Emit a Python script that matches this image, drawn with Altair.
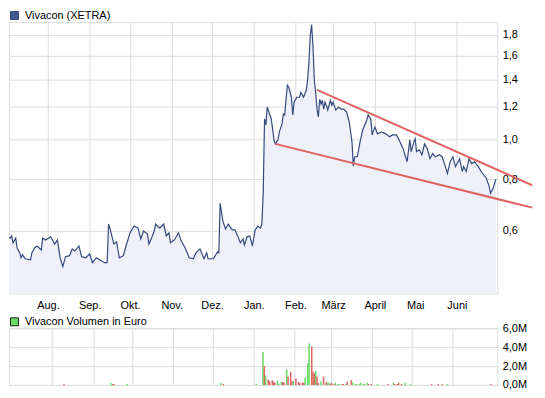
import altair as alt
import pandas as pd

# ---------------- data ----------------
price_name = "Vivacon (XETRA)"
price_dates = [
    "2006-07-01", "2006-07-04", "2006-07-05", "2006-07-06", "2006-07-08", "2006-07-09", "2006-07-11",
    "2006-07-12", "2006-07-13", "2006-07-15", "2006-07-19", "2006-07-20", "2006-07-22", "2006-07-24",
    "2006-07-27", "2006-07-28", "2006-07-30", "2006-08-03", "2006-08-06", "2006-08-08", "2006-08-10",
    "2006-08-12", "2006-08-14", "2006-08-17", "2006-08-19", "2006-08-21", "2006-08-24", "2006-08-26",
    "2006-08-29", "2006-09-01", "2006-09-03", "2006-09-06", "2006-09-12", "2006-09-14", "2006-09-15",
    "2006-09-16", "2006-09-19", "2006-09-21", "2006-09-23", "2006-09-26", "2006-09-28", "2006-10-01",
    "2006-10-04", "2006-10-07", "2006-10-09", "2006-10-11", "2006-10-14", "2006-10-15", "2006-10-17",
    "2006-10-19", "2006-10-20", "2006-10-23", "2006-10-26", "2006-10-28", "2006-10-30", "2006-10-31",
    "2006-11-03", "2006-11-06", "2006-11-08", "2006-11-11", "2006-11-14", "2006-11-17", "2006-11-19",
    "2006-11-22", "2006-11-25", "2006-11-27", "2006-11-28", "2006-12-02", "2006-12-05", "2006-12-06",
    "2006-12-07", "2006-12-09", "2006-12-11", "2006-12-13", "2006-12-16", "2006-12-18", "2006-12-20",
    "2006-12-22", "2006-12-24", "2006-12-25", "2006-12-27", "2006-12-29", "2006-12-31", "2007-01-02",
    "2007-01-04", "2007-01-06", "2007-01-07", "2007-01-08", "2007-01-09", "2007-01-10", "2007-01-11",
    "2007-01-13", "2007-01-14", "2007-01-15", "2007-01-16", "2007-01-17", "2007-01-19", "2007-01-20",
    "2007-01-22", "2007-01-23", "2007-01-24", "2007-01-25", "2007-01-26", "2007-01-27", "2007-01-29",
    "2007-01-30", "2007-01-31", "2007-02-02", "2007-02-04", "2007-02-05", "2007-02-07", "2007-02-09",
    "2007-02-10", "2007-02-11", "2007-02-12", "2007-02-13", "2007-02-14", "2007-02-15", "2007-02-16",
    "2007-02-17", "2007-02-18", "2007-02-19", "2007-02-20", "2007-02-21", "2007-02-22", "2007-02-23",
    "2007-02-24", "2007-02-25", "2007-02-27", "2007-02-28", "2007-03-01", "2007-03-03", "2007-03-05",
    "2007-03-07", "2007-03-09", "2007-03-11", "2007-03-13", "2007-03-15", "2007-03-16", "2007-03-17",
    "2007-03-19", "2007-03-21", "2007-03-23", "2007-03-26", "2007-03-27", "2007-03-29", "2007-03-30",
    "2007-04-01", "2007-04-03", "2007-04-06", "2007-04-09", "2007-04-12", "2007-04-14", "2007-04-17",
    "2007-04-19", "2007-04-22", "2007-04-25", "2007-04-27", "2007-04-28", "2007-04-30", "2007-05-01",
    "2007-05-02", "2007-05-04", "2007-05-06", "2007-05-08", "2007-05-10", "2007-05-12", "2007-05-14",
    "2007-05-16", "2007-05-19", "2007-05-21", "2007-05-23", "2007-05-25", "2007-05-27", "2007-05-29",
    "2007-05-31", "2007-06-03", "2007-06-05", "2007-06-06", "2007-06-08", "2007-06-10", "2007-06-12",
    "2007-06-14", "2007-06-17", "2007-06-19", "2007-06-23", "2007-06-25", "2007-06-26", "2007-06-28",
    "2007-06-30",
]
price_values = [
    0.582, 0.575, 0.582, 0.560, 0.575, 0.544, 0.529,
    0.515, 0.524, 0.512, 0.509, 0.529, 0.544, 0.550,
    0.538, 0.575, 0.569, 0.579, 0.556, 0.569, 0.515,
    0.490, 0.518, 0.521, 0.541, 0.535, 0.550, 0.518,
    0.515, 0.526, 0.501, 0.515, 0.501, 0.501, 0.622,
    0.608, 0.556, 0.563, 0.515, 0.521, 0.550, 0.592,
    0.615, 0.608, 0.572, 0.598, 0.588, 0.556, 0.575,
    0.598, 0.622, 0.608, 0.622, 0.582, 0.592, 0.560,
    0.569, 0.592, 0.566, 0.544, 0.515, 0.512, 0.529,
    0.541, 0.512, 0.529, 0.512, 0.512, 0.532, 0.529,
    0.699, 0.632, 0.605, 0.622, 0.602, 0.602, 0.582,
    0.560, 0.572, 0.553, 0.579, 0.582, 0.550, 0.602,
    0.615, 0.608, 0.622, 0.735, 1.121, 1.084, 1.198,
    1.146, 1.121, 1.060, 0.997, 0.975, 0.997, 1.043,
    1.090, 1.152, 1.146, 1.252, 1.354, 1.339, 1.266,
    1.146, 1.232, 1.266, 1.266, 1.302, 1.266, 1.317,
    1.392, 1.538, 1.787, 1.900, 1.690, 1.392, 1.302,
    1.185, 1.133, 1.252, 1.218, 1.245, 1.185, 1.232,
    1.211, 1.178, 1.245, 1.210, 1.232, 1.178, 1.198,
    1.185, 1.185, 1.165, 1.102, 0.986, 0.860, 0.907,
    0.907, 0.986, 1.054, 1.114, 1.146, 1.121, 1.025,
    1.072, 1.031, 1.043, 1.031, 1.014, 1.025, 1.025,
    0.997, 0.949, 0.882, 0.997, 0.933, 0.986, 1.003,
    0.933, 0.943, 0.917, 0.975, 0.949, 0.897, 0.923,
    0.907, 0.917, 0.907, 0.868, 0.826, 0.882, 0.907,
    0.858, 0.897, 0.835, 0.858, 0.835, 0.897, 0.873,
    0.882, 0.858, 0.835, 0.803, 0.768, 0.739, 0.760,
    0.800,
]

volume_name = "Vivacon Volumen in Euro"
vol_dates = [
    "2006-08-10", "2006-09-15", "2006-09-16", "2006-09-17", "2006-09-27", "2006-12-07", "2006-12-09",
    "2007-01-03", "2007-01-08", "2007-01-09", "2007-01-10", "2007-01-12", "2007-01-13", "2007-01-15",
    "2007-01-16", "2007-01-17", "2007-01-19", "2007-01-20", "2007-01-22", "2007-01-23", "2007-01-24",
    "2007-01-26", "2007-01-27", "2007-01-29", "2007-01-30", "2007-01-31", "2007-02-02", "2007-02-04",
    "2007-02-05", "2007-02-07", "2007-02-08", "2007-02-09", "2007-02-11", "2007-02-12", "2007-02-14",
    "2007-02-15", "2007-02-16", "2007-02-17", "2007-02-18", "2007-02-19", "2007-02-21", "2007-02-23",
    "2007-02-25", "2007-02-26", "2007-02-27", "2007-02-28", "2007-03-01", "2007-03-03", "2007-03-04",
    "2007-03-06", "2007-03-07", "2007-03-09", "2007-03-10", "2007-03-12", "2007-03-13", "2007-03-16",
    "2007-03-17", "2007-03-19", "2007-03-20", "2007-03-22", "2007-03-23", "2007-03-25", "2007-03-26",
    "2007-03-28", "2007-03-29", "2007-03-31", "2007-04-05", "2007-04-13", "2007-04-17", "2007-04-18",
    "2007-04-20", "2007-04-21", "2007-04-23", "2007-04-26", "2007-04-30", "2007-05-16", "2007-05-21",
    "2007-05-24", "2007-05-28", "2007-06-30",
]
vol_values = [  # million euro
    0.10, 0.20, 0.10, 0.10, 0.10, 0.20, 0.10,
    0.13, 3.50, 2.00, 1.00, 0.57, 0.40, 0.50,
    0.33, 0.23, 0.47, 0.13, 0.30, 0.30, 0.27,
    1.67, 0.90, 1.40, 0.40, 0.40, 0.67, 0.30,
    0.23, 0.23, 0.23, 0.80, 2.30, 4.40, 4.07,
    1.40, 1.20, 1.50, 0.90, 0.23, 0.40, 0.90,
    0.33, 0.23, 0.23, 0.10, 0.23, 0.10, 0.23,
    0.10, 0.10, 0.10, 0.10, 0.10, 0.33, 0.50,
    0.23, 0.10, 0.10, 0.10, 0.23, 0.10, 0.10,
    0.23, 0.10, 0.10, 0.10, 0.10, 0.23, 0.10,
    0.10, 0.23, 0.10, 0.23, 0.10, 0.10, 0.10,
    0.10, 0.10, 0.10,
]
vol_dir = [
    "down", "up", "down", "down", "up", "up", "down",
    "up", "up", "down", "up", "down", "down", "down",
    "down", "down", "up", "up", "up", "down", "down",
    "up", "down", "down", "down", "up", "down", "down",
    "down", "down", "down", "up", "up", "up", "down",
    "down", "down", "up", "down", "down", "up", "down",
    "down", "up", "up", "down", "down", "down", "up",
    "up", "up", "down", "down", "up", "down", "down",
    "up", "up", "up", "up", "up", "up", "up",
    "up", "down", "down", "up", "down", "up", "down",
    "down", "down", "down", "up", "up", "down", "down",
    "down", "up", "down",
]

trend_names = ["upper", "upper", "lower", "lower"]
trend_dates = ["2007-02-17", "2007-07-27", "2007-01-17", "2007-07-27"]
trend_values = [1.32, 0.773, 0.975, 0.682]

month_ticks = [(2006, 8), (2006, 9), (2006, 10), (2006, 11), (2006, 12), (2007, 1),
               (2007, 2), (2007, 3), (2007, 4), (2007, 5), (2007, 6)]
month_labels = ["Jan.", "Feb.", "März", "April", "Mai", "Juni",
                "Juli", "Aug.", "Sep.", "Okt.", "Nov.", "Dez."]
x_domain = [(2006, 7, 3), (2007, 7, 1)]
price_ticks = [0.6, 0.8, 1.0, 1.2, 1.4, 1.6, 1.8]
price_domain = [0.4215, 1.93]
vol_ticks = [0, 2, 4, 6]
vol_domain = [0, 6]

# ---------------- build ----------------
price_df = pd.DataFrame({"date": price_dates, "price": price_values, "name": price_name})
vol_df = pd.DataFrame({"date": vol_dates, "vol": vol_values, "dir": vol_dir})
trend_df = pd.DataFrame({"line": trend_names, "date": trend_dates, "value": trend_values})

W, H1, H2 = 491, 273, 57
FONT = "Liberation Sans"
GRID = "#dcdcdc"
NAVY = "#34497c"

tick_dts = [alt.DateTime(year=y, month=m, date=1, utc=True) for y, m in month_ticks]
x_scale = alt.Scale(type="utc", domain=[alt.DateTime(year=y, month=m, date=d, utc=True)
                                        for y, m, d in x_domain])
label_arr = "[" + ",".join("'" + s + "'" for s in month_labels) + "]"

x_axis_main = alt.Axis(values=tick_dts, labelExpr=label_arr + "[utcmonth(datum.value)]",
                       title=None, grid=True, gridColor=GRID, ticks=False, domain=False,
                       labelPadding=6, labelFontSize=11, labelFont=FONT, labelColor="#000")
x_axis_vol = alt.Axis(values=tick_dts, labels=False, title=None, grid=True, gridColor=GRID,
                      ticks=False, domain=False)
y_axis_price = alt.Axis(orient="right", values=price_ticks, title=None, grid=True, gridColor=GRID,
                        ticks=False, domain=False, labelPadding=5, labelFontSize=11, labelFont=FONT,
                        labelColor="#000",
                        labelExpr="replace(format(datum.value, '.1f'), '.', ',')")
y_axis_vol = alt.Axis(orient="right", values=vol_ticks, title=None, grid=True, gridColor=GRID,
                      ticks=False, domain=False, labelPadding=5, labelFontSize=11, labelFont=FONT,
                      labelColor="#000",
                      labelExpr="replace(format(datum.value, '.1f'), '.', ',') + 'M'")
y_scale = alt.Scale(type="log", domain=price_domain, nice=False)

base = alt.Chart(price_df)
area = base.mark_area(color="#eef1fa", opacity=1, clip=True).encode(
    x=alt.X("date:T", scale=x_scale, axis=x_axis_main),
    y=alt.Y("price:Q", scale=y_scale, axis=y_axis_price),
    y2=alt.datum(price_domain[0]),
)
line = base.mark_line(strokeWidth=1.2, clip=True).encode(
    x=alt.X("date:T", scale=x_scale),
    y=alt.Y("price:Q", scale=y_scale),
    color=alt.Color("name:N", scale=alt.Scale(domain=[price_name], range=[NAVY]),
                    legend=alt.Legend(title=None, orient="none", legendX=0, legendY=-12,
                                      symbolType="square", symbolSize=64,
                                      symbolFillColor="#41598f", symbolStrokeColor="#1a1a1a",
                                      symbolStrokeWidth=1, labelFont=FONT, labelFontSize=11,
                                      labelColor="#000", padding=0, labelOffset=5)),
)
trend = alt.Chart(trend_df).mark_line(color="#e06262", strokeWidth=2, clip=False).encode(
    x=alt.X("date:T", scale=x_scale),
    y=alt.Y("value:Q", scale=y_scale),
    detail="line:N",
)
main = alt.layer(area, line, trend).properties(width=W, height=H1)

bars = alt.Chart(vol_df).mark_bar(size=1.5, clip=True).encode(
    x=alt.X("date:T", scale=x_scale, axis=x_axis_vol),
    y=alt.Y("vol:Q", scale=alt.Scale(domain=vol_domain, nice=False), axis=y_axis_vol),
    color=alt.Color("dir:N", scale=alt.Scale(domain=["up", "down"], range=["#66d966", "#e06464"]),
                    legend=alt.Legend(title=None, orient="none", legendX=0, legendY=-12,
                                      values=["up"], labelExpr="'" + volume_name + "'",
                                      symbolType="square", symbolSize=64,
                                      symbolStrokeColor="#1a1a1a", symbolStrokeWidth=1,
                                      labelFont=FONT, labelFontSize=11, labelColor="#000",
                                      padding=0, labelOffset=5)),
).properties(width=W, height=H2)

chart = alt.vconcat(main, bars, spacing=4).resolve_scale(
    color="independent", x="independent"
).resolve_legend(color="independent").properties(padding=0).configure_view(
    stroke="#d4d4d4"
).configure(font=FONT)

chart.save("out.html", embed_options={"renderer": "svg", "actions": False})
